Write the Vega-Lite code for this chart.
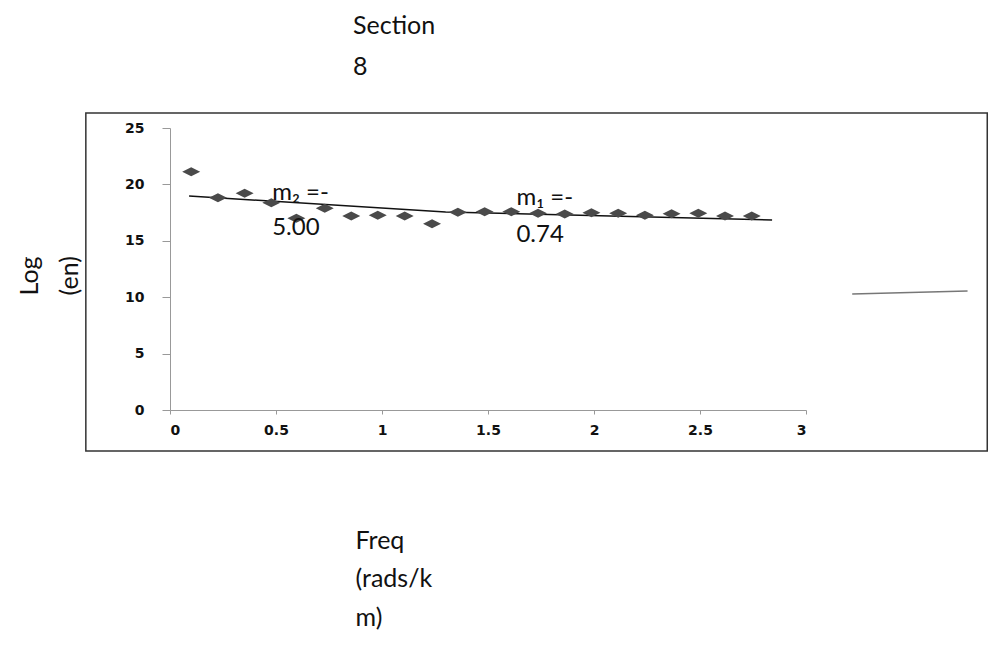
{
  "$schema": "https://vega.github.io/schema/vega-lite/v6.json",
  "width": 636,
  "height": 282,
  "autosize": {"type": "none"},
  "padding": {"left": 170, "top": 128, "right": 191, "bottom": 236},
  "background": "white",
  "config": {"view": {"stroke": null}, "font": "Lato"},
  "title": {
    "text": ["Section", "8"],
    "anchor": "start",
    "frame": "group",
    "dx": 183,
    "dy": -28,
    "font": "Lato",
    "fontSize": 25,
    "fontWeight": "normal",
    "color": "#111",
    "lineHeight": 41
  },
  "layer": [
    {
      "data": {"values": [{}]},
      "mark": {"type": "rect", "fillOpacity": 0, "stroke": "#333", "strokeWidth": 1.5},
      "encoding": {
        "x": {"datum": -0.397, "type": "quantitative", "scale": {"domain": [0, 3], "nice": false, "zero": true}},
        "x2": {"datum": 3.855},
        "y": {"datum": 26.33, "type": "quantitative", "scale": {"domain": [0, 25], "nice": false}},
        "y2": {"datum": -3.63}
      }
    },
    {
      "data": {"values": [{}]},
      "mark": {"type": "rule", "stroke": "#777", "strokeWidth": 1.5},
      "encoding": {
        "x": {"datum": 3.218, "type": "quantitative"},
        "x2": {"datum": 3.762},
        "y": {"datum": 10.28, "type": "quantitative"},
        "y2": {"datum": 10.55}
      }
    },
    {
      "data": {"values": [
        {"freq": 0.09, "logen": 18.97},
        {"freq": 1.3, "logen": 17.55},
        {"freq": 2.84, "logen": 16.84}
      ]},
      "mark": {"type": "line", "color": "#111", "strokeWidth": 1.5},
      "encoding": {
        "x": {"field": "freq", "type": "quantitative", "scale": {"domain": [0, 3], "nice": false},
          "axis": {
            "values": [0, 0.5, 1, 1.5, 2, 2.5, 3],
            "format": "~g",
            "grid": false,
            "labelFont": "DejaVu Sans", "labelFontSize": 14, "labelFontWeight": "bold", "labelColor": "#111",
            "domainColor": "#999", "tickColor": "#999", "tickSize": 4, "labelPadding": 9,
            "title": ["Freq", "(rads/k", "m)"],
            "titleX": 185, "titleY": 138, "titleAlign": "left", "titleBaseline": "alphabetic",
            "titleFont": "Lato", "titleFontSize": 25, "titleFontWeight": "normal", "titleColor": "#111",
            "titleLineHeight": 38.5
          }},
        "y": {"field": "logen", "type": "quantitative", "scale": {"domain": [0, 25], "nice": false},
          "axis": {
            "values": [0, 5, 10, 15, 20, 25],
            "format": "~g",
            "grid": false,
            "labelFont": "DejaVu Sans", "labelFontSize": 14, "labelFontWeight": "bold", "labelColor": "#111",
            "domainColor": "#999", "tickColor": "#999", "tickSize": 8, "labelPadding": 18,
            "title": ["Log", "(en)"],
            "titleAngle": -90,
            "titleX": -133, "titleY": 167, "titleAlign": "left", "titleBaseline": "alphabetic",
            "titleFont": "Lato", "titleFontSize": 25, "titleFontWeight": "normal", "titleColor": "#111",
            "titleLineHeight": 40
          }}
      }
    },
    {
      "data": {"values": [
        {"freq": 0.100, "logen": 21.13},
        {"freq": 0.226, "logen": 18.82},
        {"freq": 0.352, "logen": 19.21},
        {"freq": 0.478, "logen": 18.38},
        {"freq": 0.596, "logen": 17.00},
        {"freq": 0.730, "logen": 17.88},
        {"freq": 0.855, "logen": 17.20},
        {"freq": 0.980, "logen": 17.26},
        {"freq": 1.107, "logen": 17.20},
        {"freq": 1.236, "logen": 16.52},
        {"freq": 1.358, "logen": 17.53},
        {"freq": 1.484, "logen": 17.58},
        {"freq": 1.610, "logen": 17.58},
        {"freq": 1.736, "logen": 17.44},
        {"freq": 1.862, "logen": 17.38},
        {"freq": 1.988, "logen": 17.49},
        {"freq": 2.114, "logen": 17.44},
        {"freq": 2.240, "logen": 17.26},
        {"freq": 2.366, "logen": 17.40},
        {"freq": 2.492, "logen": 17.44},
        {"freq": 2.618, "logen": 17.20},
        {"freq": 2.744, "logen": 17.20}
      ]},
      "mark": {"type": "point", "shape": "M-1,0L0,-0.5L1,0L0,0.5Z", "filled": true, "size": 324, "color": "#4a4a4a", "opacity": 1},
      "encoding": {
        "x": {"field": "freq", "type": "quantitative"},
        "y": {"field": "logen", "type": "quantitative"}
      }
    },
    {
      "data": {"values": [
        {"freq": 0.482, "logen": 18.6, "label": "m₂ =-"},
        {"freq": 0.482, "logen": 15.5, "label": "5.00"},
        {"freq": 1.634, "logen": 18.17, "label": "m₁ =-"},
        {"freq": 1.634, "logen": 14.92, "label": "0.74"}
      ]},
      "mark": {"type": "text", "align": "left", "baseline": "alphabetic", "font": "Lato", "fontSize": 24, "color": "#111"},
      "encoding": {
        "x": {"field": "freq", "type": "quantitative"},
        "y": {"field": "logen", "type": "quantitative"},
        "text": {"field": "label"}
      }
    }
  ]
}
